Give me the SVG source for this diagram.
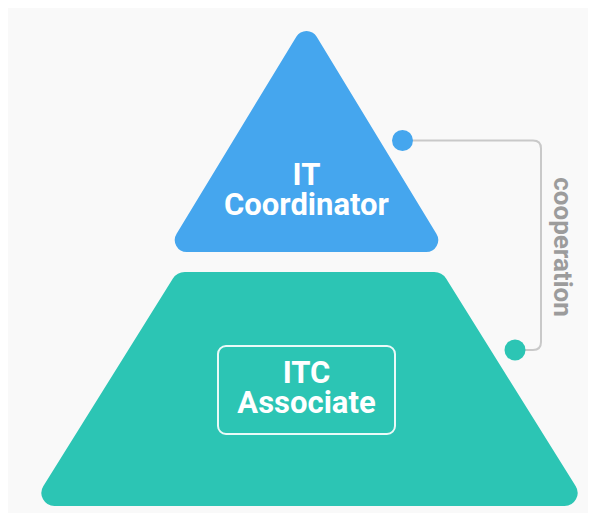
<svg xmlns="http://www.w3.org/2000/svg" width="595" height="513" viewBox="0 0 595 513">
  <defs>
    <style>
      .lbl { font-family: Roboto, "Liberation Sans", sans-serif; font-weight: 700; font-size: 31px; fill: #ffffff; text-anchor: middle; }
      .edge-lbl { font-family: Roboto, "Liberation Sans", sans-serif; font-weight: 700; font-size: 26px; fill: #9c9c9c; text-anchor: middle; }
      .conn { fill: none; stroke: #c9c9c9; stroke-width: 2; }
    </style>
  </defs>
  <rect x="0" y="0" width="595" height="513" fill="#ffffff"/>
  <rect x="8" y="8" width="580" height="505" fill="#f9f9f9"/>

  <g id="itc-associate">
    <path d="M184.8,272 L434.2,272 A14,14 0 0 1 446.1,278.6 L575.6,486.1 A13,13 0 0 1 564.5,506 L54.5,506 A13,13 0 0 1 43.4,486.1 L172.9,278.6 A14,14 0 0 1 184.8,272 Z" fill="#2cc5b4"/>
    <rect x="218" y="346" width="177" height="88" rx="8" ry="8" fill="none" stroke="#ffffff" stroke-opacity="0.9" stroke-width="2"/>
    <text class="lbl"><tspan x="306.5" y="383">ITC</tspan><tspan x="306.5" y="413">Associate</tspan></text>
  </g>

  <g id="it-coordinator">
    <path d="M296.3,36.75 A12,12 0 0 1 316.7,36.75 L436.4,233.7 A12,12 0 0 1 426.1,252 L186.9,252 A12,12 0 0 1 176.6,233.7 Z" fill="#45a6ee"/>
    <text class="lbl"><tspan x="306.5" y="185">IT</tspan><tspan x="306.5" y="215">Coordinator</tspan></text>
  </g>

  <g id="connectors">
    <path class="conn" d="M402.5,140.5 H533 Q541,140.5 541,148.5 V342 Q541,350 533,350 H515"/>
    <circle cx="402.5" cy="140.5" r="10.5" fill="#45a6ee"/>
    <circle cx="515" cy="350" r="10.5" fill="#2cc5b4"/>
    <text class="edge-lbl" transform="translate(554,247) rotate(90)" x="0" y="0">cooperation</text>
  </g>
</svg>
